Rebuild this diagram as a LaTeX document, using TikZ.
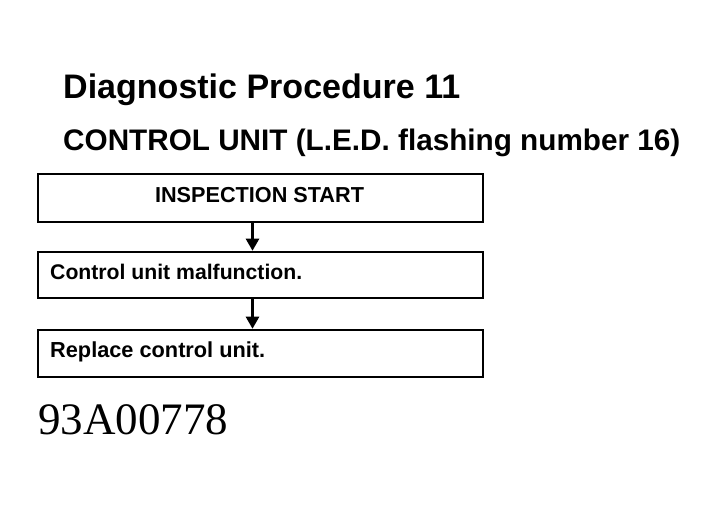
\documentclass[tikz,border=0pt]{standalone}
\usepackage{fontspec}
\usepackage{graphicx}
\setmainfont{Liberation Sans}
\newfontfamily\serifnum{Liberation Serif}
\usetikzlibrary{arrows.meta}
\tikzset{
  flowbox/.style={draw=black, line width=2.5pt, minimum width=445pt, inner sep=0pt},
  lbl/.style={inner sep=0pt, anchor=west},
  flowarrow/.style={line width=2.5pt, -{Triangle[length=12pt,width=13pt]}}
}
\begin{document}
\begin{tikzpicture}[x=1pt,y=-1pt]
\useasboundingbox (0,0) rectangle (712,510);
\node[lbl] (title) at (63,90) {\resizebox{397pt}{!}{\bfseries Diagnostic Procedure 11}};
\node[lbl] (sub) at (63,143) {\resizebox{617pt}{!}{\bfseries CONTROL UNIT (L.E.D. flashing number 16)}};
\node[flowbox, minimum height=48pt] (b1) at (260.5,198) {};
\node[flowbox, minimum height=46pt] (b2) at (260.5,275) {};
\node[flowbox, minimum height=47pt] (b3) at (260.5,353.5) {};
\node[inner sep=0pt] (t1) at (259.5,195) {\resizebox{209pt}{!}{\bfseries INSPECTION START}};
\node[lbl] (t2) at (50,272) {\resizebox{252pt}{!}{\bfseries Control unit malfunction.}};
\node[lbl] (t3) at (50,352) {\resizebox{215pt}{!}{\bfseries Replace control unit.}};
\node[lbl] (code) at (38,420) {\resizebox{190pt}{!}{\serifnum 93A00778}};
\draw[flowarrow] ([xshift=-8pt]b1.south) -- ([xshift=-8pt]b2.north);
\draw[flowarrow] ([xshift=-8pt]b2.south) -- ([xshift=-8pt]b3.north);
\end{tikzpicture}
\end{document}
